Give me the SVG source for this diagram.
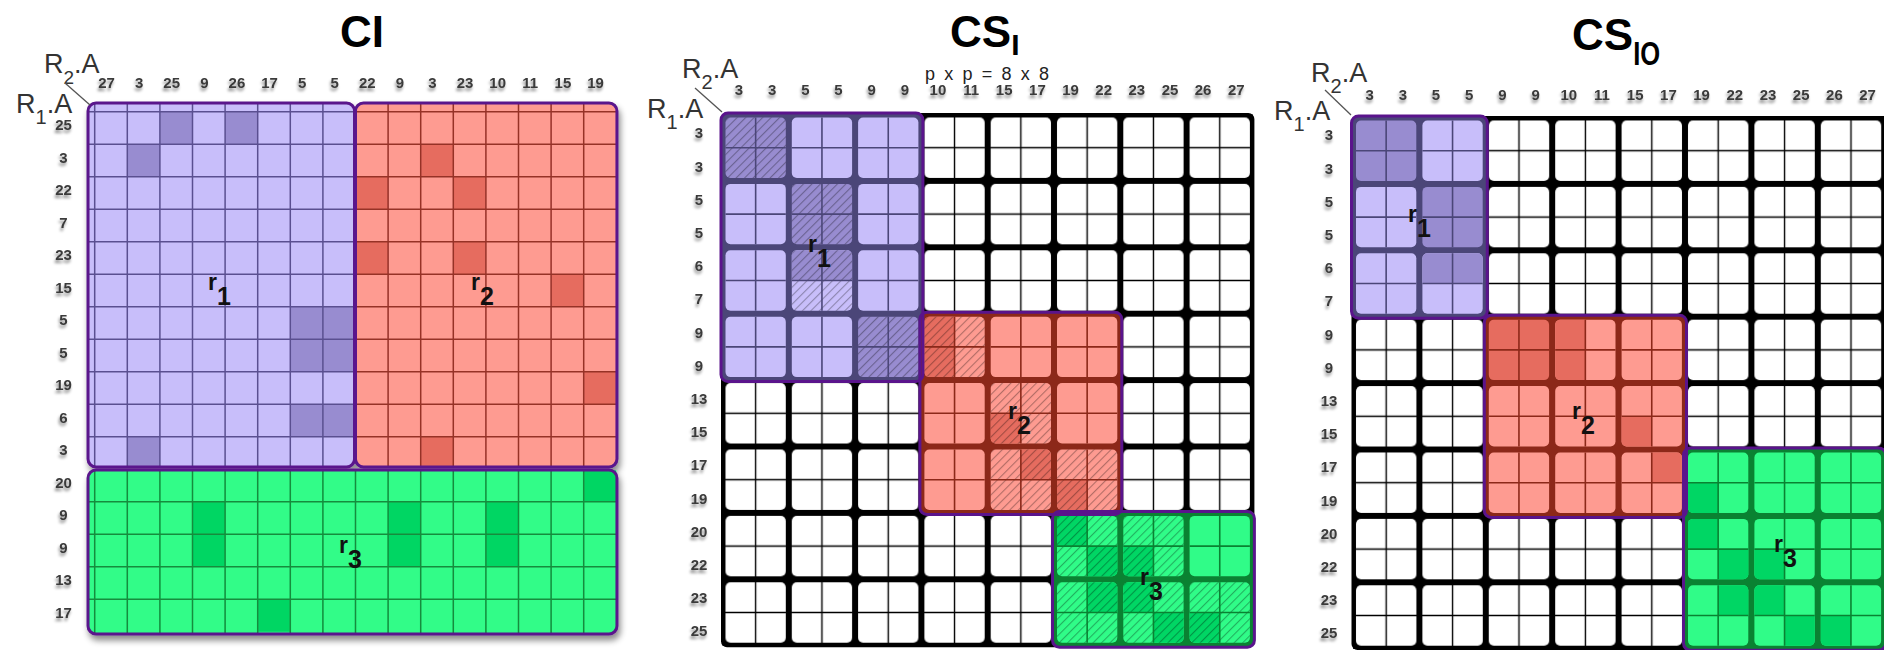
<svg xmlns="http://www.w3.org/2000/svg" xmlns:xlink="http://www.w3.org/1999/xlink" width="1884" height="650" viewBox="0 0 1884 650">
<defs>
<style>
text{font-family:"Liberation Sans",Arial,sans-serif}
.t{font-size:44px;font-weight:bold;fill:#000}
.ax{font-size:27px;fill:#333}
.n text{font-size:15px;font-weight:bold;fill:#3a3a3a;text-anchor:middle}
.rl{font-size:23px;font-weight:bold;fill:#111}
.Lp{fill:#c8befa}.Dp{fill:#988cd0}.Lr{fill:#fe9b91}.Dr{fill:#e66c5f}.Lg{fill:#30fc88}.Dg{fill:#00d664}
.ol{fill:none;stroke:#5a148c;stroke-width:3}
.gl{fill:none;stroke-width:1.5}
.sp{stroke:#4b4678}.sr{stroke:#8c2819}.sg{stroke:#0a8232}
.dg{stroke:#555;stroke-width:1.3;fill:none}
</style>
<filter id="sh" x="-5%" y="-5%" width="112%" height="115%"><feDropShadow dx="2" dy="5" stdDeviation="3" flood-color="#000" flood-opacity=".45"/></filter>
<filter id="ts" x="-10%" y="-30%" width="120%" height="170%"><feGaussianBlur in="SourceAlpha" stdDeviation="1.6"/><feOffset dx="-1.5" dy="2.5" result="b"/><feFlood flood-color="#000" flood-opacity=".45"/><feComposite in2="b" operator="in"/><feMerge><feMergeNode/><feMergeNode in="SourceGraphic"/></feMerge></filter>
<clipPath id="bc"><rect x="3" y="3" width="60.3" height="60.4" rx="5"/></clipPath>
<pattern id="h" patternUnits="userSpaceOnUse" width="6" height="6" patternTransform="rotate(45)"><rect width="1.1" height="6" fill="#000" fill-opacity=".3"/></pattern>
<pattern id="wb2" patternUnits="userSpaceOnUse" x="722.5" y="114.5" width="66.3" height="66.4"><rect width="66.3" height="66.4" fill="#000"/><rect x="3" y="3" width="60.3" height="60.4" rx="5" fill="#fff"/><path d="M33.15 3V63.4M3 33.2H63.3" stroke="#000" stroke-width="1.4"/></pattern>
<pattern id="wb3" patternUnits="userSpaceOnUse" x="1353" y="117.5" width="66.4" height="66.4"><rect width="66.4" height="66.4" fill="#000"/><rect x="3" y="3" width="60.4" height="60.4" rx="5" fill="#fff"/><path d="M33.2 3V63.4M3 33.2H63.4" stroke="#000" stroke-width="1.4"/></pattern>
<rect id="F" width="67" height="67"/>
<rect id="TL" width="33.2" height="33.2"/>
<rect id="TR" x="33.15" width="34" height="33.2"/>
<rect id="BL" y="33.2" width="33.2" height="34"/>
<rect id="BR" x="33.15" y="33.2" width="34" height="34"/>
<rect id="TP" width="67" height="33.2"/>
<rect id="LF" width="33.2" height="67"/>
<path id="X" d="M33.15 0V67M0 33.2H67" fill="none" stroke-width="1.6"/>
</defs>

<!-- ============ Panel 1 : CI ============ -->
<g id="panel-ci">
<text class="t" x="340" y="47">CI</text>
<text class="ax" x="44" y="73" font-size="25">R<tspan font-size="19" dy="11">2</tspan><tspan dy="-11">.A</tspan></text>
<text class="ax" x="16" y="113">R<tspan font-size="20" dy="11">1</tspan><tspan dy="-11">.A</tspan></text>
<g filter="url(#sh)">
<g transform="translate(94.7 111.7) scale(32.6 32.5)">
<g id="ci-r1">
<rect class="Lp" x="-.205" y="-.268" width="8.175" height="11.198" rx=".245" ry=".246"/>
<path class="Dp" d="M2 0h1v1h-1zM4 0h1v1h-1zM1 1h1v1h-1zM6 6h2v2h-2zM6 9h2v1h-2zM1 10h1v.93h-1z"/>
<path class="gl" stroke="#5a5090" vector-effect="non-scaling-stroke" d="M0-.27V10.93M1-.27V10.93M2-.27V10.93M3-.27V10.93M4-.27V10.93M5-.27V10.93M6-.27V10.93M7-.27V10.93M-.2 0H7.97M-.2 1H7.97M-.2 2H7.97M-.2 3H7.97M-.2 4H7.97M-.2 5H7.97M-.2 6H7.97M-.2 7H7.97M-.2 8H7.97M-.2 9H7.97M-.2 10H7.97"/>
</g>
<g id="ci-r2">
<rect class="Lr" x="8" y="-.268" width="8.02" height="11.198" rx=".245" ry=".246"/>
<path class="Dr" d="M10 1h1v1h-1zM8 2h1v1h-1zM11 2h1v1h-1zM8 4h1v1h-1zM11 4h1v1h-1zM14 5h1v1h-1zM15 8h1v1h-1zM10 10h1v.93h-1z"/>
<path class="gl" stroke="#963228" vector-effect="non-scaling-stroke" d="M9-.27V10.93M10-.27V10.93M11-.27V10.93M12-.27V10.93M13-.27V10.93M14-.27V10.93M15-.27V10.93M8 0H16M8 1H16M8 2H16M8 3H16M8 4H16M8 5H16M8 6H16M8 7H16M8 8H16M8 9H16M8 10H16"/>
</g>
<g id="ci-r3">
<rect class="Lg" x="-.205" y="11.025" width="16.225" height="5.045" rx=".245" ry=".246"/>
<path class="Dg" d="M15 11.03h1v.97h-1zM3 12h1v2h-1zM9 12h1v2h-1zM12 12h1v2h-1zM5 15h1v1h-1z"/>
<path class="gl" stroke="#148c3c" vector-effect="non-scaling-stroke" d="M0 11.03V16.07M1 11.03V16.07M2 11.03V16.07M3 11.03V16.07M4 11.03V16.07M5 11.03V16.07M6 11.03V16.07M7 11.03V16.07M8 11.03V16.07M9 11.03V16.07M10 11.03V16.07M11 11.03V16.07M12 11.03V16.07M13 11.03V16.07M14 11.03V16.07M15 11.03V16.07M-.2 12H16M-.2 13H16M-.2 14H16M-.2 15H16"/>
</g>
<rect class="ol" vector-effect="non-scaling-stroke" x="-.205" y="-.268" width="8.175" height="11.198" rx=".245" ry=".246"/>
<rect class="ol" vector-effect="non-scaling-stroke" x="8" y="-.268" width="8.02" height="11.198" rx=".245" ry=".246"/>
<rect class="ol" vector-effect="non-scaling-stroke" x="-.205" y="11.025" width="16.225" height="5.045" rx=".245" ry=".246"/>
</g>
</g>
<text class="rl" x="208" y="290">r<tspan font-size="25" dy="15">1</tspan></text>
<text class="rl" x="471" y="290">r<tspan font-size="25" dy="15">2</tspan></text>
<text class="rl" x="339" y="553">r<tspan font-size="25" dy="15">3</tspan></text>
<g class="n" filter="url(#ts)">
<text x="106.5" y="88">27</text><text x="139.1" y="88">3</text><text x="171.7" y="88">25</text><text x="204.3" y="88">9</text><text x="236.9" y="88">26</text><text x="269.5" y="88">17</text><text x="302.1" y="88">5</text><text x="334.7" y="88">5</text><text x="367.3" y="88">22</text><text x="399.9" y="88">9</text><text x="432.5" y="88">3</text><text x="465.1" y="88">23</text><text x="497.7" y="88">10</text><text x="530.3" y="88">11</text><text x="562.9" y="88">15</text><text x="595.5" y="88">19</text>
<text x="63.5" y="130">25</text><text x="63.5" y="162.5">3</text><text x="63.5" y="195">22</text><text x="63.5" y="227.5">7</text><text x="63.5" y="260">23</text><text x="63.5" y="292.5">15</text><text x="63.5" y="325">5</text><text x="63.5" y="357.5">5</text><text x="63.5" y="390">19</text><text x="63.5" y="422.5">6</text><text x="63.5" y="455">3</text><text x="63.5" y="487.5">20</text><text x="63.5" y="520">9</text><text x="63.5" y="552.5">9</text><text x="63.5" y="585">13</text><text x="63.5" y="617.5">17</text>
</g>
</g>

<!-- ============ Panel 2 : CS_I ============ -->
<g id="panel-csi">
<text class="t" x="950" y="47">CS<tspan font-size="30" dy="8">I</tspan></text>
<text x="925" y="80" font-size="18" fill="#222" textLength="124" lengthAdjust="spacing">p x p = 8 x 8</text>
<text class="ax" x="682" y="78">R<tspan font-size="20" dy="11">2</tspan><tspan dy="-11">.A</tspan></text>
<text class="ax" x="647" y="118">R<tspan font-size="20" dy="11">1</tspan><tspan dy="-11">.A</tspan></text>
<rect x="721" y="113" width="533.4" height="534.2" rx="6" fill="#000"/>
<rect x="722.5" y="114.5" width="530.4" height="531.2" fill="url(#wb2)"/>
<g id="csi-r1">
<rect x="721" y="113" width="201.9" height="268.6" rx="7" fill="#4b4678"/>
<g transform="translate(722.5 114.5)" clip-path="url(#bc)"><use href="#F" class="Dp"/><use href="#F" fill="url(#h)"/><use href="#X" class="sp"/></g>
<g transform="translate(788.8 114.5)" clip-path="url(#bc)"><use href="#F" class="Lp"/><use href="#X" class="sp"/></g>
<g transform="translate(855.1 114.5)" clip-path="url(#bc)"><use href="#F" class="Lp"/><use href="#X" class="sp"/></g>
<g transform="translate(722.5 180.9)" clip-path="url(#bc)"><use href="#F" class="Lp"/><use href="#X" class="sp"/></g>
<g transform="translate(788.8 180.9)" clip-path="url(#bc)"><use href="#F" class="Dp"/><use href="#F" fill="url(#h)"/><use href="#X" class="sp"/></g>
<g transform="translate(855.1 180.9)" clip-path="url(#bc)"><use href="#F" class="Lp"/><use href="#X" class="sp"/></g>
<g transform="translate(722.5 247.3)" clip-path="url(#bc)"><use href="#F" class="Lp"/><use href="#X" class="sp"/></g>
<g transform="translate(788.8 247.3)" clip-path="url(#bc)"><use href="#F" class="Lp"/><use href="#TP" class="Dp"/><use href="#F" fill="url(#h)"/><use href="#X" class="sp"/></g>
<g transform="translate(855.1 247.3)" clip-path="url(#bc)"><use href="#F" class="Lp"/><use href="#X" class="sp"/></g>
<g transform="translate(722.5 313.7)" clip-path="url(#bc)"><use href="#F" class="Lp"/><use href="#X" class="sp"/></g>
<g transform="translate(788.8 313.7)" clip-path="url(#bc)"><use href="#F" class="Lp"/><use href="#X" class="sp"/></g>
<g transform="translate(855.1 313.7)" clip-path="url(#bc)"><use href="#F" class="Dp"/><use href="#F" fill="url(#h)"/><use href="#X" class="sp"/></g>
</g>
<g id="csi-r2">
<rect x="919.9" y="312.2" width="201.9" height="202.2" rx="7" fill="#8c2819"/>
<g transform="translate(921.4 313.7)" clip-path="url(#bc)"><use href="#F" class="Lr"/><use href="#LF" class="Dr"/><use href="#F" fill="url(#h)"/><use href="#X" class="sr"/></g>
<g transform="translate(987.7 313.7)" clip-path="url(#bc)"><use href="#F" class="Lr"/><use href="#X" class="sr"/></g>
<g transform="translate(1054 313.7)" clip-path="url(#bc)"><use href="#F" class="Lr"/><use href="#X" class="sr"/></g>
<g transform="translate(921.4 380.1)" clip-path="url(#bc)"><use href="#F" class="Lr"/><use href="#X" class="sr"/></g>
<g transform="translate(987.7 380.1)" clip-path="url(#bc)"><use href="#F" class="Lr"/><use href="#BL" class="Dr"/><use href="#F" fill="url(#h)"/><use href="#X" class="sr"/></g>
<g transform="translate(1054 380.1)" clip-path="url(#bc)"><use href="#F" class="Lr"/><use href="#X" class="sr"/></g>
<g transform="translate(921.4 446.5)" clip-path="url(#bc)"><use href="#F" class="Lr"/><use href="#X" class="sr"/></g>
<g transform="translate(987.7 446.5)" clip-path="url(#bc)"><use href="#F" class="Lr"/><use href="#TR" class="Dr"/><use href="#F" fill="url(#h)"/><use href="#X" class="sr"/></g>
<g transform="translate(1054 446.5)" clip-path="url(#bc)"><use href="#F" class="Lr"/><use href="#BL" class="Dr"/><use href="#F" fill="url(#h)"/><use href="#X" class="sr"/></g>
</g>
<g id="csi-r3">
<rect x="1052.5" y="511.4" width="201.9" height="135.8" rx="7" fill="#0a8232"/>
<g transform="translate(1054 512.9)" clip-path="url(#bc)"><use href="#F" class="Lg"/><use href="#TL" class="Dg"/><use href="#BR" class="Dg"/><use href="#F" fill="url(#h)"/><use href="#X" class="sg"/></g>
<g transform="translate(1120.3 512.9)" clip-path="url(#bc)"><use href="#F" class="Lg"/><use href="#BL" class="Dg"/><use href="#F" fill="url(#h)"/><use href="#X" class="sg"/></g>
<g transform="translate(1186.6 512.9)" clip-path="url(#bc)"><use href="#F" class="Lg"/><use href="#X" class="sg"/></g>
<g transform="translate(1054 579.3)" clip-path="url(#bc)"><use href="#F" class="Lg"/><use href="#TR" class="Dg"/><use href="#F" fill="url(#h)"/><use href="#X" class="sg"/></g>
<g transform="translate(1120.3 579.3)" clip-path="url(#bc)"><use href="#F" class="Lg"/><use href="#TL" class="Dg"/><use href="#BR" class="Dg"/><use href="#F" fill="url(#h)"/><use href="#X" class="sg"/></g>
<g transform="translate(1186.6 579.3)" clip-path="url(#bc)"><use href="#F" class="Lg"/><use href="#BL" class="Dg"/><use href="#F" fill="url(#h)"/><use href="#X" class="sg"/></g>
</g>
<rect class="ol" x="721" y="113" width="201.9" height="268.6" rx="7"/>
<rect class="ol" x="919.9" y="312.2" width="201.9" height="202.2" rx="7"/>
<rect class="ol" x="1052.5" y="511.4" width="201.9" height="135.8" rx="7"/>
<text class="rl" x="808" y="252">r<tspan font-size="25" dy="15">1</tspan></text>
<text class="rl" x="1008" y="419">r<tspan font-size="25" dy="15">2</tspan></text>
<text class="rl" x="1140" y="585">r<tspan font-size="25" dy="15">3</tspan></text>
<g class="n" filter="url(#ts)">
<text x="739" y="95">3</text><text x="772.2" y="95">3</text><text x="805.3" y="95">5</text><text x="838.5" y="95">5</text><text x="871.6" y="95">9</text><text x="904.8" y="95">9</text><text x="937.9" y="95">10</text><text x="971.1" y="95">11</text><text x="1004.2" y="95">15</text><text x="1037.4" y="95">17</text><text x="1070.5" y="95">19</text><text x="1103.7" y="95">22</text><text x="1136.8" y="95">23</text><text x="1170" y="95">25</text><text x="1203.1" y="95">26</text><text x="1236.3" y="95">27</text>
<text x="699" y="138.4">3</text><text x="699" y="171.6">3</text><text x="699" y="204.8">5</text><text x="699" y="238">5</text><text x="699" y="271.2">6</text><text x="699" y="304.4">7</text><text x="699" y="337.6">9</text><text x="699" y="370.8">9</text><text x="699" y="404">13</text><text x="699" y="437.2">15</text><text x="699" y="470.4">17</text><text x="699" y="503.6">19</text><text x="699" y="536.8">20</text><text x="699" y="570">22</text><text x="699" y="603.2">23</text><text x="699" y="636.4">25</text>
</g>
</g>

<!-- ============ Panel 3 : CS_IO ============ -->
<g id="panel-csio">
<text class="t" x="1572" y="50" font-size="45">CS<tspan font-size="34" dy="15" textLength="27" lengthAdjust="spacingAndGlyphs">IO</tspan></text>
<text class="ax" x="1311" y="82">R<tspan font-size="20" dy="11">2</tspan><tspan dy="-11">.A</tspan></text>
<text class="ax" x="1274" y="120">R<tspan font-size="20" dy="11">1</tspan><tspan dy="-11">.A</tspan></text>
<rect x="1351.5" y="116" width="540" height="534" rx="6" fill="#000"/>
<rect x="1353" y="117.5" width="531.2" height="531.2" fill="url(#wb3)"/>
<g id="csio-r1">
<rect x="1351.5" y="116" width="135.8" height="202.2" rx="7" fill="#4b4678"/>
<g transform="translate(1353 117.5)" clip-path="url(#bc)"><use href="#F" class="Dp"/><use href="#X" class="sp"/></g>
<g transform="translate(1419.4 117.5)" clip-path="url(#bc)"><use href="#F" class="Lp"/><use href="#X" class="sp"/></g>
<g transform="translate(1353 183.9)" clip-path="url(#bc)"><use href="#F" class="Lp"/><use href="#X" class="sp"/></g>
<g transform="translate(1419.4 183.9)" clip-path="url(#bc)"><use href="#F" class="Dp"/><use href="#X" class="sp"/></g>
<g transform="translate(1353 250.3)" clip-path="url(#bc)"><use href="#F" class="Lp"/><use href="#X" class="sp"/></g>
<g transform="translate(1419.4 250.3)" clip-path="url(#bc)"><use href="#F" class="Lp"/><use href="#TP" class="Dp"/><use href="#X" class="sp"/></g>
</g>
<g id="csio-r2">
<rect x="1484.3" y="315.2" width="202.2" height="202.2" rx="7" fill="#8c2819"/>
<g transform="translate(1485.8 316.7)" clip-path="url(#bc)"><use href="#F" class="Dr"/><use href="#X" class="sr"/></g>
<g transform="translate(1552.2 316.7)" clip-path="url(#bc)"><use href="#F" class="Lr"/><use href="#LF" class="Dr"/><use href="#X" class="sr"/></g>
<g transform="translate(1618.6 316.7)" clip-path="url(#bc)"><use href="#F" class="Lr"/><use href="#X" class="sr"/></g>
<g transform="translate(1485.8 383.1)" clip-path="url(#bc)"><use href="#F" class="Lr"/><use href="#X" class="sr"/></g>
<g transform="translate(1552.2 383.1)" clip-path="url(#bc)"><use href="#F" class="Lr"/><use href="#X" class="sr"/></g>
<g transform="translate(1618.6 383.1)" clip-path="url(#bc)"><use href="#F" class="Lr"/><use href="#BL" class="Dr"/><use href="#X" class="sr"/></g>
<g transform="translate(1485.8 449.5)" clip-path="url(#bc)"><use href="#F" class="Lr"/><use href="#X" class="sr"/></g>
<g transform="translate(1552.2 449.5)" clip-path="url(#bc)"><use href="#F" class="Lr"/><use href="#X" class="sr"/></g>
<g transform="translate(1618.6 449.5)" clip-path="url(#bc)"><use href="#F" class="Lr"/><use href="#TR" class="Dr"/><use href="#X" class="sr"/></g>
</g>
<g id="csio-r3">
<rect x="1683.5" y="448" width="202.2" height="202.2" rx="7" fill="#0a8232"/>
<g transform="translate(1685 449.5)" clip-path="url(#bc)"><use href="#F" class="Lg"/><use href="#BL" class="Dg"/><use href="#X" class="sg"/></g>
<g transform="translate(1751.4 449.5)" clip-path="url(#bc)"><use href="#F" class="Lg"/><use href="#X" class="sg"/></g>
<g transform="translate(1817.8 449.5)" clip-path="url(#bc)"><use href="#F" class="Lg"/><use href="#X" class="sg"/></g>
<g transform="translate(1685 515.9)" clip-path="url(#bc)"><use href="#F" class="Lg"/><use href="#TL" class="Dg"/><use href="#BR" class="Dg"/><use href="#X" class="sg"/></g>
<g transform="translate(1751.4 515.9)" clip-path="url(#bc)"><use href="#F" class="Lg"/><use href="#BL" class="Dg"/><use href="#X" class="sg"/></g>
<g transform="translate(1817.8 515.9)" clip-path="url(#bc)"><use href="#F" class="Lg"/><use href="#X" class="sg"/></g>
<g transform="translate(1685 582.3)" clip-path="url(#bc)"><use href="#F" class="Lg"/><use href="#TR" class="Dg"/><use href="#X" class="sg"/></g>
<g transform="translate(1751.4 582.3)" clip-path="url(#bc)"><use href="#F" class="Lg"/><use href="#TL" class="Dg"/><use href="#BR" class="Dg"/><use href="#X" class="sg"/></g>
<g transform="translate(1817.8 582.3)" clip-path="url(#bc)"><use href="#F" class="Lg"/><use href="#BL" class="Dg"/><use href="#X" class="sg"/></g>
</g>
<rect class="ol" x="1351.5" y="116" width="135.8" height="202.2" rx="7"/>
<rect class="ol" x="1484.3" y="315.2" width="202.2" height="202.2" rx="7"/>
<rect class="ol" x="1683.5" y="448" width="202.2" height="202.2" rx="7"/>
<text class="rl" x="1408" y="222">r<tspan font-size="25" dy="15">1</tspan></text>
<text class="rl" x="1572" y="419">r<tspan font-size="25" dy="15">2</tspan></text>
<text class="rl" x="1774" y="552">r<tspan font-size="25" dy="15">3</tspan></text>
<g class="n" filter="url(#ts)">
<text x="1369.6" y="100">3</text><text x="1402.8" y="100">3</text><text x="1436" y="100">5</text><text x="1469.2" y="100">5</text><text x="1502.4" y="100">9</text><text x="1535.6" y="100">9</text><text x="1568.8" y="100">10</text><text x="1602" y="100">11</text><text x="1635.2" y="100">15</text><text x="1668.4" y="100">17</text><text x="1701.6" y="100">19</text><text x="1734.8" y="100">22</text><text x="1768" y="100">23</text><text x="1801.2" y="100">25</text><text x="1834.4" y="100">26</text><text x="1867.6" y="100">27</text>
<text x="1329" y="140.4">3</text><text x="1329" y="173.6">3</text><text x="1329" y="206.8">5</text><text x="1329" y="240">5</text><text x="1329" y="273.2">6</text><text x="1329" y="306.4">7</text><text x="1329" y="339.6">9</text><text x="1329" y="372.8">9</text><text x="1329" y="406">13</text><text x="1329" y="439.2">15</text><text x="1329" y="472.4">17</text><text x="1329" y="505.6">19</text><text x="1329" y="538.8">20</text><text x="1329" y="572">22</text><text x="1329" y="605.2">23</text><text x="1329" y="638.4">25</text>
</g>
</g>

<g id="header-diagonals">
<path class="dg" d="M65 83L90 105"/>
<path class="dg" d="M695 88L722 112"/>
<path class="dg" d="M1325 90L1351 115"/>
</g>
</svg>
